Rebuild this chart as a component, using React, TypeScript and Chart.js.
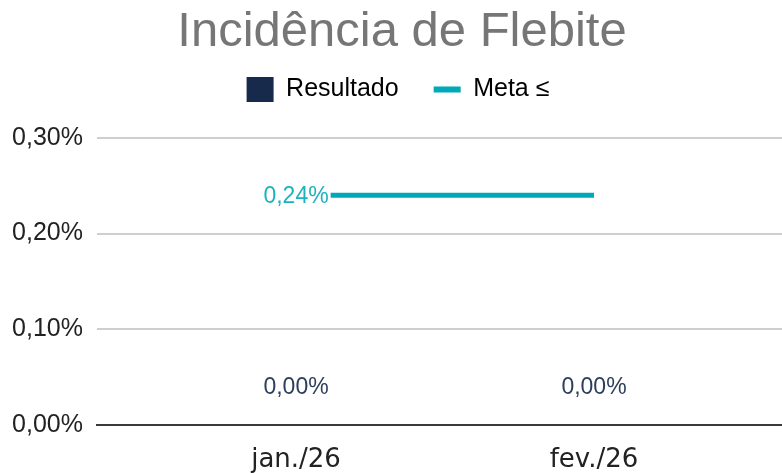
import { useEffect, useRef } from 'react';
import { Chart, registerables } from 'chart.js';

Chart.register(...registerables);

const categories = ['jan./26', 'fev./26'];
const resultado = [0, 0];
const meta = [0.24, 0.24];
const yMin = 0;
const yMax = 0.3;
const yStep = 0.1;

const NAVY = '#172A4B';
const TEAL = '#00A9B7';
const TEAL_TEXT = '#1DB3BE';
const BAR_LABEL = '#2C3E5C';

const fmt = (v: number) => v.toFixed(2).replace('.', ',') + '%';

const LEGEND_PAD = 35;

const shiftPlugin = {
  id: 'shiftBlocks',
  afterLayout(chart: any) {
    const t = chart.titleBlock;
    if (t) {
      t.left += 22;
    }
    const l = chart.legend;
    if (l) {
      l.left += 14;
      const dy = 77 - LEGEND_PAD - l.top;
      l.top += dy;
      l.bottom += dy;
    }
  },
};

const labelPlugin = {
  id: 'valueLabels',
  afterDatasetsDraw(chart: any) {
    const ctx = chart.ctx;
    ctx.save();
    ctx.font = '23px "Liberation Sans", Arial, sans-serif';
    ctx.textAlign = 'center';
    ctx.textBaseline = 'middle';
    const barMeta = chart.getDatasetMeta(0);
    barMeta.data.forEach((el: any, i: number) => {
      ctx.fillStyle = BAR_LABEL;
      ctx.fillText(fmt(resultado[i]), el.x, el.y - 37);
    });
    const lineMeta = chart.getDatasetMeta(1);
    const p = lineMeta.data[0];
    if (p) {
      const txt = fmt(meta[0]);
      const w = ctx.measureText(txt).width;
      ctx.fillStyle = '#ffffff';
      ctx.fillRect(p.x - w / 2 - 2, p.y - 12, w + 4, 24);
      ctx.fillStyle = TEAL_TEXT;
      ctx.fillText(txt, p.x, p.y + 1);
    }
    ctx.restore();
  },
};

export default function App() {
  const ref = useRef<HTMLCanvasElement>(null);

  useEffect(() => {
    if (!ref.current) return;
    const chart = new Chart(ref.current, {
      type: 'bar',
      data: {
        datasets: [
          {
            type: 'bar',
            label: 'Resultado',
            data: resultado.map((v, i) => ({ x: i, y: v })),
            backgroundColor: NAVY,
            borderWidth: 0,
            order: 2,
          } as any,
          {
            type: 'line',
            label: 'Meta ≤',
            data: meta.map((v, i) => ({ x: i, y: v })),
            borderColor: TEAL,
            backgroundColor: TEAL,
            borderWidth: 5,
            pointRadius: 0,
            fill: false,
            order: 1,
          } as any,
        ],
      },
      plugins: [shiftPlugin, labelPlugin],
      options: {
        animation: false,
        responsive: true,
        maintainAspectRatio: false,
        layout: { padding: 0 },
        plugins: {
          tooltip: { enabled: false },
          title: {
            display: true,
            text: 'Incidência de Flebite',
            color: '#767676',
            font: { family: '"Liberation Sans", Arial, sans-serif', size: 49, weight: 'normal' },
            padding: { top: 3, bottom: 6 },
          },
          legend: {
            display: true,
            labels: {
              usePointStyle: true,
              pointStyleWidth: 27,
              boxHeight: 26,
              color: '#222222',
              padding: LEGEND_PAD,
              font: { family: '"Liberation Sans", Arial, sans-serif', size: 25 },
              generateLabels: () => [
                {
                  text: 'Resultado',
                  fillStyle: NAVY,
                  strokeStyle: NAVY,
                  lineWidth: 0,
                  pointStyle: 'rect',
                  datasetIndex: 0,
                  hidden: false,
                },
                {
                  text: 'Meta ≤',
                  fillStyle: TEAL,
                  strokeStyle: TEAL,
                  lineWidth: 6,
                  pointStyle: 'line',
                  datasetIndex: 1,
                  hidden: false,
                },
              ] as any,
            },
          },
        },
        scales: {
          x: {
            type: 'linear',
            min: -0.668,
            max: 1.631,
            offset: false,
            grid: { display: false, drawTicks: false },
            border: { display: true, color: '#3A3A3A', width: 2 },
            afterBuildTicks: (scale: any) => {
              scale.ticks = categories.map((_, i) => ({ value: i }));
            },
            afterFit: (scale: any) => {
              scale.height = 48;
            },
            ticks: {
              autoSkip: false,
              maxRotation: 0,
              padding: 20,
              color: '#222222',
              font: { family: '"DejaVu Sans", Verdana, sans-serif', size: 26 },
              callback: (v: any) => categories[Math.round(Number(v))] ?? '',
            },
          },
          y: {
            min: yMin,
            max: yMax,
            grid: { color: '#CFCFCF', lineWidth: 2, drawTicks: false },
            border: { display: false },
            afterFit: (scale: any) => {
              scale.width = 97;
            },
            ticks: {
              stepSize: yStep,
              padding: 14,
              color: '#222222',
              font: { family: '"Liberation Sans", Arial, sans-serif', size: 25 },
              callback: (v: any) => fmt(Number(v)),
            },
          },
        },
      } as any,
    });
    return () => chart.destroy();
  }, []);

  return (
    <div style={{ position: 'fixed', left: 0, top: 0, width: 782, height: 473, background: '#fff' }}>
      <canvas ref={ref} />
    </div>
  );
}
